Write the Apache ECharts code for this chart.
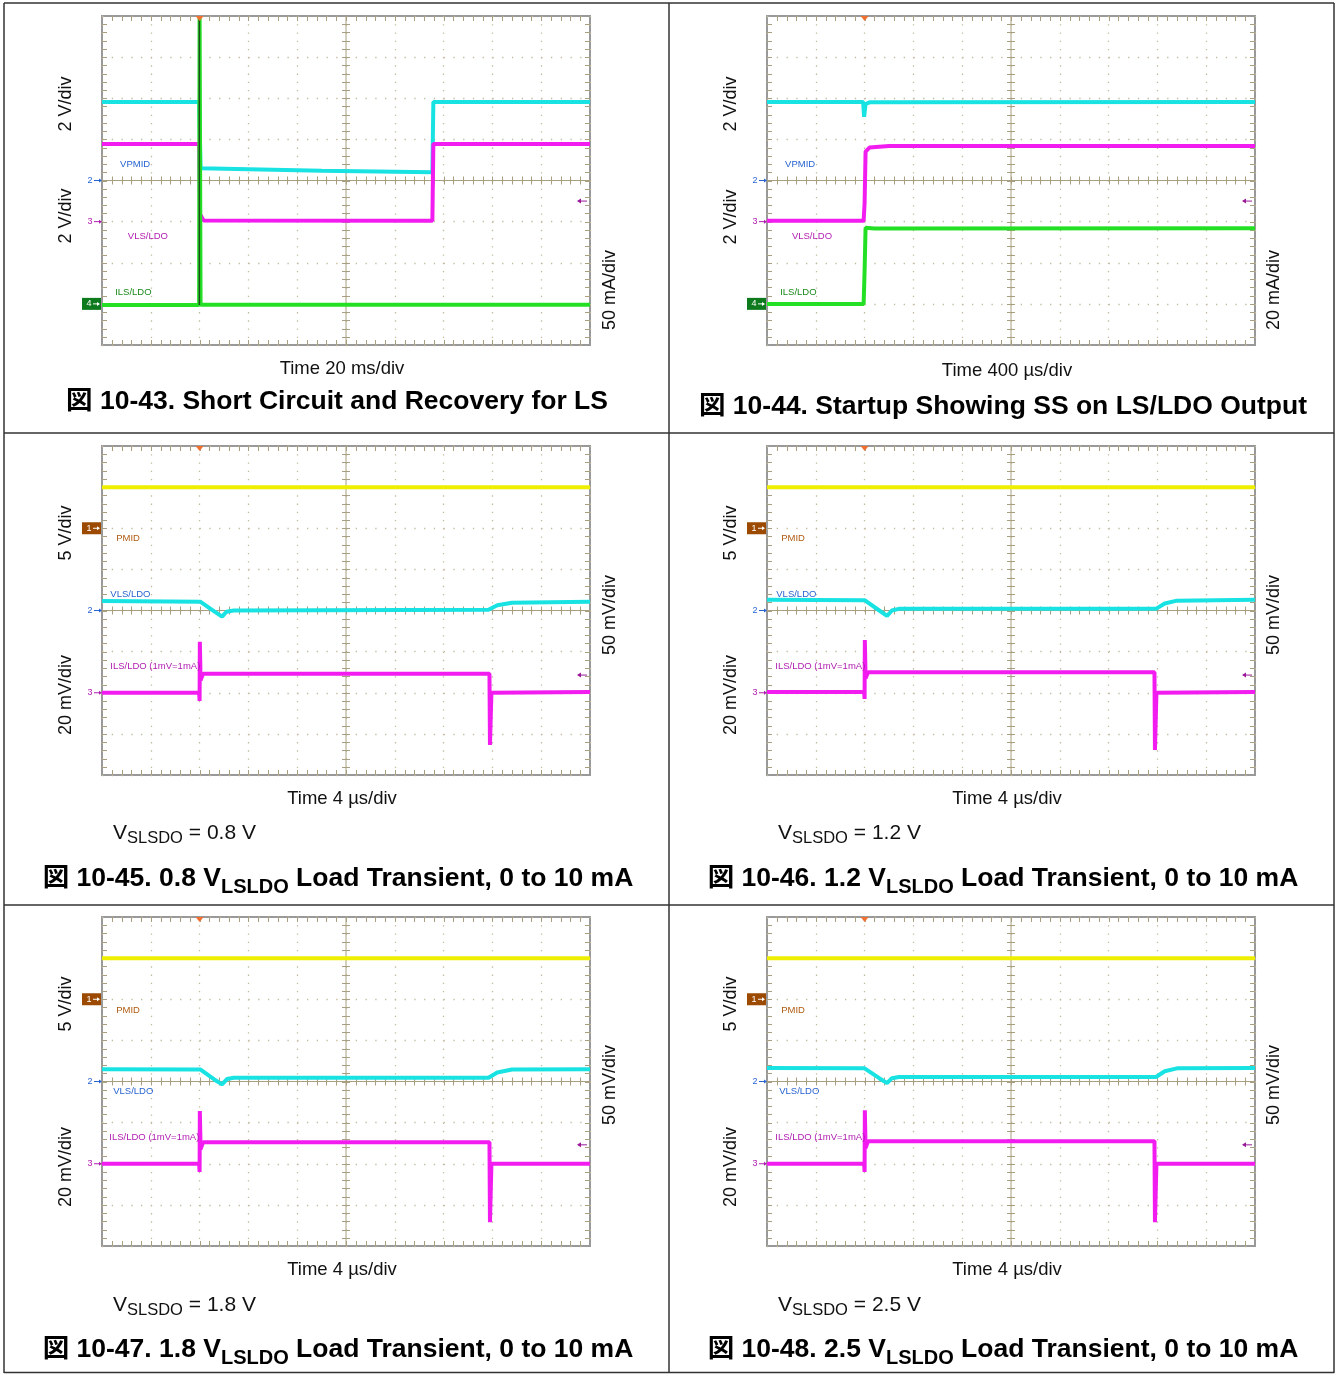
<!DOCTYPE html>
<html><head><meta charset="utf-8">
<script src="https://cdn.jsdelivr.net/npm/echarts@6.0.0/dist/echarts.min.js"></script>
<style>html,body{margin:0;padding:0;background:#fff}#c{width:1336px;height:1374px}</style>
</head><body><div id="c"></div><script>
// ---------- data (x in time divisions 0..10, y in vertical divisions 0..8 from bottom) ----------
const P1_CYAN    = [[0,5.91],[1.99,5.91],[2.02,4.30],[4.5,4.24],[6.77,4.20],[6.79,5.91],[10,5.91]];
const P1_MAGENTA = [[0,4.89],[1.99,4.89],[2.01,3.18],[2.08,3.03],[6.77,3.02],[6.79,4.89],[10,4.89]];
const P1_GREEN   = [[0,0.97],[1.99,0.97],[2.0,8.0],[2.02,0.98],[10,0.98]];
const P1_SPIKE   = [[1.995,0.97],[1.995,8.0]];

const P2_CYAN    = [[0,5.91],[1.97,5.91],[1.99,5.55],[2.02,5.86],[2.1,5.90],[10,5.91]];
const P2_MAGENTA = [[0,3.02],[1.98,3.02],[2.0,3.45],[2.02,4.70],[2.1,4.80],[2.5,4.84],[10,4.84]];
const P2_GREEN   = [[0,1.0],[1.98,1.0],[2.0,1.8],[2.02,2.85],[2.2,2.83],[10,2.84]];

const P3_YELLOW  = [[0,7.0],[10,7.0]];
const P3_CYAN    = [[0,4.23],[2.02,4.21],[2.3,3.98],[2.46,3.85],[2.55,3.97],[2.7,4.0],[7.92,4.02],[8.1,4.13],[8.4,4.19],[10,4.21]];
const P3_MAGENTA = [[0,2.0],[1.99,2.0],[2.0,1.8],[2.005,3.24],[2.02,2.3],[2.07,2.46],[7.94,2.46],[7.95,0.73],[7.98,2.0],[10,2.02]];

const P4_YELLOW  = [[0,7.0],[10,7.0]];
const P4_CYAN    = [[0,4.26],[2.0,4.25],[2.3,4.0],[2.46,3.87],[2.56,4.0],[2.7,4.04],[7.97,4.04],[8.15,4.17],[8.4,4.24],[10,4.26]];
const P4_MAGENTA = [[0,2.02],[1.99,2.02],[2.0,1.85],[2.005,3.28],[2.02,2.35],[2.07,2.5],[7.94,2.5],[7.95,0.61],[7.98,2.0],[10,2.02]];

const P5_YELLOW  = [[0,7.0],[10,7.0]];
const P5_CYAN    = [[0,4.30],[2.02,4.29],[2.3,4.05],[2.46,3.93],[2.56,4.06],[2.7,4.09],[7.92,4.09],[8.1,4.22],[8.4,4.29],[10,4.30]];
const P5_MAGENTA = [[0,2.0],[1.99,2.0],[2.0,1.8],[2.005,3.28],[2.02,2.35],[2.07,2.52],[7.94,2.52],[7.95,0.58],[7.98,2.0],[10,2.0]];

const P6_YELLOW  = [[0,7.0],[10,7.0]];
const P6_CYAN    = [[0,4.33],[2.0,4.32],[2.3,4.08],[2.46,3.96],[2.56,4.08],[2.7,4.11],[7.97,4.11],[8.15,4.25],[8.4,4.32],[10,4.33]];
const P6_MAGENTA = [[0,2.0],[1.99,2.0],[2.0,1.8],[2.005,3.3],[2.02,2.38],[2.07,2.55],[7.94,2.55],[7.95,0.58],[7.98,2.0],[10,2.0]];

const TRIGGER_X = [2.0, 2.0, 2.0, 2.0, 2.0, 2.0];
const RIGHT_ARROW_Y = [3.5, 3.5, 2.43, 2.43, 2.46, 2.46];

const TIME_LABELS = ['Time 20 ms/div','Time 400 \u00b5s/div','Time 4 \u00b5s/div','Time 4 \u00b5s/div','Time 4 \u00b5s/div','Time 4 \u00b5s/div'];
const VSLSDO_VALUES = [null, null, '0.8 V', '1.2 V', '1.8 V', '2.5 V'];
const FIG_TITLES = [
  '\u56f3 10-43. Short Circuit and Recovery for LS',
  '\u56f3 10-44. Startup Showing SS on LS/LDO Output',
  '\u56f3 10-45. 0.8 V{sub|LSLDO} Load Transient, 0 to 10 mA',
  '\u56f3 10-46. 1.2 V{sub|LSLDO} Load Transient, 0 to 10 mA',
  '\u56f3 10-47. 1.8 V{sub|LSLDO} Load Transient, 0 to 10 mA',
  '\u56f3 10-48. 2.5 V{sub|LSLDO} Load Transient, 0 to 10 mA'
];
const SCALE_LABELS = [
  ['2 V/div','2 V/div','50 mA/div'],
  ['2 V/div','2 V/div','20 mA/div'],
  ['5 V/div','20 mV/div','50 mV/div'],
  ['5 V/div','20 mV/div','50 mV/div'],
  ['5 V/div','20 mV/div','50 mV/div'],
  ['5 V/div','20 mV/div','50 mV/div']
];

// ---------- layout / style ----------
const FONT = '"Liberation Sans", Arial, "Noto Sans CJK JP", sans-serif';
const C_CYAN = '#18e2e2', C_MAG = '#f21cf0', C_GREEN = '#24e024', C_YEL = '#eeee00';
const C_BLUE = '#2864d0', C_PURP = '#b01cb0', C_DGREEN = '#1a8a1a', C_BROWN = '#b05a10';
const GRID_COL = '#a89f80';

const GRIDS = [
  {left:102, top:16,  width:488, height:329},
  {left:767, top:16,  width:488, height:329},
  {left:102, top:446, width:488, height:329},
  {left:767, top:446, width:488, height:329},
  {left:102, top:917, width:488, height:329},
  {left:767, top:917, width:488, height:329}
];

const TRACES = [
  [[P1_CYAN,C_CYAN,4],[P1_MAGENTA,C_MAG,4],[P1_GREEN,C_GREEN,4],[P1_SPIKE,'#1f4a1f',1.5]],
  [[P2_CYAN,C_CYAN,4],[P2_MAGENTA,C_MAG,4],[P2_GREEN,C_GREEN,4]],
  [[P3_YELLOW,C_YEL,4],[P3_CYAN,C_CYAN,4],[P3_MAGENTA,C_MAG,4]],
  [[P4_YELLOW,C_YEL,4],[P4_CYAN,C_CYAN,4],[P4_MAGENTA,C_MAG,4]],
  [[P5_YELLOW,C_YEL,4],[P5_CYAN,C_CYAN,4],[P5_MAGENTA,C_MAG,4]],
  [[P6_YELLOW,C_YEL,4],[P6_CYAN,C_CYAN,4],[P6_MAGENTA,C_MAG,4]]
];

// channel markers: [label, yDiv, textColor, boxColor]
const MARKERS_A = [['2',4,C_BLUE,null],['3',3,C_PURP,null],['4',1,'#fff','#0e7a1e']];
const MARKERS_B = [['1',6,'#fff','#9c4a00'],['2',4,C_BLUE,null],['3',2,C_PURP,null]];
const MARKERS = [MARKERS_A, MARKERS_A, MARKERS_B, MARKERS_B, MARKERS_B, MARKERS_B];

// channel name labels: [text, xDiv, yDiv, color]
const CH_LABELS = [
  [['VPMID',0.37,4.4,C_BLUE],['VLS/LDO',0.53,2.63,C_PURP],['ILS/LDO',0.27,1.29,C_DGREEN]],
  [['VPMID',0.37,4.4,C_BLUE],['VLS/LDO',0.51,2.63,C_PURP],['ILS/LDO',0.27,1.29,C_DGREEN]],
  [['PMID',0.29,5.76,C_BROWN],['VLS/LDO',0.17,4.38,C_BLUE],['ILS/LDO (1mV=1mA)',0.17,2.63,C_PURP]],
  [['PMID',0.29,5.76,C_BROWN],['VLS/LDO',0.19,4.38,C_BLUE],['ILS/LDO (1mV=1mA)',0.17,2.63,C_PURP]],
  [['PMID',0.29,5.74,C_BROWN],['VLS/LDO',0.23,3.77,C_BLUE],['ILS/LDO (1mV=1mA)',0.15,2.63,C_PURP]],
  [['PMID',0.29,5.74,C_BROWN],['VLS/LDO',0.25,3.77,C_BLUE],['ILS/LDO (1mV=1mA)',0.17,2.63,C_PURP]]
];

function graticule(params, api) {
  const ch = [];
  const p = (x, y) => api.coord([x, y]);
  const x0 = p(0,0)[0], x1 = p(10,0)[0], yT = p(0,8)[1], yB = p(0,0)[1];
  const cx = p(5,0)[0], cy = p(0,4)[1];
  const st = {stroke: GRID_COL, lineWidth: 1};
  const L = (a,b,c,d) => ch.push({type:'line', shape:{x1:a,y1:b,x2:c,y2:d}, style:st});
  L(cx, yT, cx, yB); L(x0, cy, x1, cy);
  for (let k = 1; k < 50; k++) {
    const x = Math.round(p(k/5,0)[0]) + 0.5;
    L(x, cy-4, x, cy+4); L(x, yT, x, yT+5); L(x, yB-5, x, yB);
  }
  for (let k = 1; k < 40; k++) {
    const y = Math.round(p(0,k/5)[1]) + 0.5;
    L(cx-4, y, cx+4, y); L(x0, y, x0+5, y); L(x1-5, y, x1, y);
  }
  return {type:'group', children: ch};
}

const xAxes = [], yAxes = [], series = [];
GRIDS.forEach((g, i) => {
  xAxes.push({gridIndex:i, type:'value', min:0, max:10, interval:1,
    axisLine:{show:false}, axisTick:{show:false}, axisLabel:{show:false},
    splitLine:{show:true, lineStyle:{color:'#c2ba9f', width:1.3, type:[1.3, 6.925]}}});
  yAxes.push({gridIndex:i, type:'value', min:0, max:8, interval:1,
    axisLine:{show:false}, axisTick:{show:false}, axisLabel:{show:false},
    splitLine:{show:true, lineStyle:{color:'#c2ba9f', width:1.3, type:[1.3, 8.46]}}});
  series.push({type:'custom', xAxisIndex:i, yAxisIndex:i, data:[[0,0]], renderItem: graticule, silent:true, z:1});
  TRACES[i].forEach(([data, color, w]) => {
    series.push({type:'line', xAxisIndex:i, yAxisIndex:i, data, showSymbol:false, symbol:'none',
      lineStyle:{color, width:w}, itemStyle:{color}, z:3, silent:true});
  });
});

const chart = echarts.init(document.getElementById('c'), null, {renderer:'canvas'});
chart.setOption({
  animation:false, backgroundColor:'#fff',
  grid: GRIDS.map(g => Object.assign({show:true, borderColor:'#999', borderWidth:2, backgroundColor:'#fff', containLabel:false}, g)),
  xAxis: xAxes, yAxis: yAxes, series
});

// ---------- annotations ----------
const G = [];
const T = (x, y, text, font, fill, extra) => Object.assign({type:'text', x, y, z:10,
  style:{text, font, fill, align:'center', verticalAlign:'middle'}}, extra || {});
const px = (i, x, y) => chart.convertToPixel({gridIndex:i}, [x, y]);

// table borders
const BL = (x1,y1,x2,y2) => G.push({type:'line', shape:{x1,y1,x2,y2}, style:{stroke:'#333', lineWidth:1.5}, z:10});
BL(4,3,1334,3); BL(4,433,1334,433); BL(4,905,1334,905); BL(4,1372.5,1334,1372.5);
BL(4,3,4,1373); BL(669,3,669,1373); BL(1334,3,1334,1373);

const SCALE_POS = [
  [[66,104],[66,216],[610,290]], [[731,104],[731,217],[1274,290]],
  [[66,533],[66,695],[610,615]], [[731,533],[731,695],[1274,615]],
  [[66,1004],[66,1167],[610,1085]], [[731,1004],[731,1167],[1274,1085]]
];
const TIME_POS = [[342,369],[1007,371],[342,799],[1007,799],[342,1270],[1007,1270]];
const TITLE_POS = [[337,402],[1003,407],[338,879],[1003,879],[338,1350],[1003,1350]];
const VS_POS = [null,null,[113,833],[778,833],[113,1305],[778,1305]];

GRIDS.forEach((g, i) => {
  SCALE_LABELS[i].forEach((s, k) => {
    const [x, y] = SCALE_POS[i][k];
    G.push(T(x, y, s, '18px ' + FONT, '#111', {rotation: Math.PI/2}));
  });
  G.push(T(TIME_POS[i][0], TIME_POS[i][1], TIME_LABELS[i], '18.5px ' + FONT, '#111'));
  G.push({type:'text', x:TITLE_POS[i][0], y:TITLE_POS[i][1], z:10, style:{
    text: FIG_TITLES[i], font:'bold 26.5px ' + FONT, fill:'#000', align:'center', verticalAlign:'middle', lineHeight:36,
    rich:{sub:{fontSize:20, fontWeight:'bold', fontFamily:FONT, fill:'#000', lineHeight:26, verticalAlign:'bottom'}}}});
  if (VSLSDO_VALUES[i]) {
    G.push({type:'text', x:VS_POS[i][0], y:VS_POS[i][1], z:10, style:{
      text:'V{sub|SLSDO} = ' + VSLSDO_VALUES[i], font:'21px ' + FONT, fill:'#111', align:'left', verticalAlign:'middle', lineHeight:28,
      rich:{sub:{fontSize:16.5, fontFamily:FONT, fill:'#111', lineHeight:19, verticalAlign:'bottom'}}}});
  }
  MARKERS[i].forEach(([lab, yv, col, box]) => {
    const [xl, y] = px(i, 0, yv);
    if (box) {
      G.push({type:'rect', shape:{x:xl-20, y:y-6, width:19, height:12}, style:{fill:box}, z:10});
      G.push(T(xl-13, y, lab, '9px ' + FONT, '#fff'));
      G.push({type:'line', shape:{x1:xl-9, y1:y, x2:xl-3, y2:y}, style:{stroke:'#fff', lineWidth:1}, z:11});
      G.push({type:'polygon', shape:{points:[[xl-2,y],[xl-5,y-2],[xl-5,y+2]]}, style:{fill:'#fff'}, z:11});
    } else {
      G.push(T(xl-12, y, lab, '9px ' + FONT, col));
      G.push({type:'line', shape:{x1:xl-8, y1:y, x2:xl-2, y2:y}, style:{stroke:col, lineWidth:1}, z:11});
      G.push({type:'polygon', shape:{points:[[xl,y],[xl-3,y-2],[xl-3,y+2]]}, style:{fill:col}, z:11});
    }
  });
  CH_LABELS[i].forEach(([s, xv, yv, col]) => {
    const [x, y] = px(i, xv, yv);
    G.push({type:'text', x, y, z:10, style:{text:s, font:'9.5px ' + FONT, fill:col, align:'left', verticalAlign:'middle'}});
  });
  const [tx, ty] = px(i, TRIGGER_X[i], 8);
  G.push({type:'polygon', shape:{points:[[tx-4,ty],[tx+4,ty],[tx,ty+5]]}, style:{fill:'#f07030'}, z:12});
  const [rx, ry] = px(i, 10, RIGHT_ARROW_Y[i]);
  G.push({type:'line', shape:{x1:rx-12, y1:ry, x2:rx-3, y2:ry}, style:{stroke:'#9a1a9a', lineWidth:1}, z:12});
  G.push({type:'polygon', shape:{points:[[rx-13,ry],[rx-9,ry-2.5],[rx-9,ry+2.5]]}, style:{fill:'#9a1a9a'}, z:12});
});

chart.setOption({graphic: G});
</script></body></html>
